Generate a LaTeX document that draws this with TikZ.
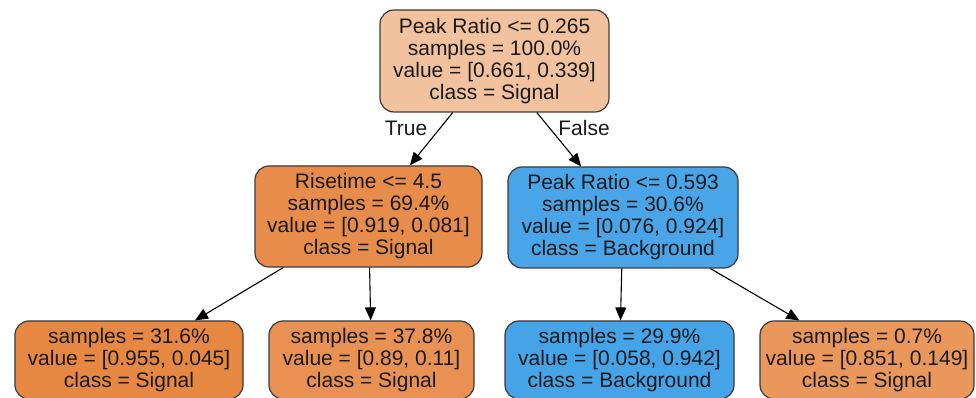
\documentclass[tikz,border=0pt]{standalone}
\usepackage{fontspec}
\setmainfont{Liberation Sans}
\usetikzlibrary{arrows.meta}

% node fills, shaded by class purity
\definecolor{rootfill}{HTML}{F2C29F}
\definecolor{risefill}{HTML}{E78C4A}
\definecolor{peakfill}{HTML}{49A5E7}
\definecolor{leafa}{HTML}{E68742}
\definecolor{leafb}{HTML}{E89152}
\definecolor{leafc}{HTML}{45A3E7}
\definecolor{leafd}{HTML}{EA975C}
\definecolor{bordergray}{HTML}{3A3A3A}
\definecolor{txt}{HTML}{1A1A1A}

\begin{document}
\begin{tikzpicture}[x=1pt,y=1pt,
  treenode/.style={draw=bordergray, line width=1.2pt, rounded corners=14pt,
    align=center, inner sep=0pt, text=txt,
    font=\fontsize{21}{22}\selectfont},
  leafnode/.style={treenode, minimum height=78pt},
  splitnode/.style={treenode, minimum height=101pt},
  link/.style={-{Triangle[length=13pt,width=11pt]}, line width=1.1pt, black},
  edgelabel/.style={text=txt, font=\fontsize{21}{22}\selectfont}]
\useasboundingbox (0,0) rectangle (976,398);
\clip (0,0) rectangle (976,398);

% root split
\node[treenode, fill=rootfill, minimum width=229pt, minimum height=102pt] (root) at (494.5,337)
  {Peak Ratio <= 0.265\\samples = 100.0\%\\value = [0.661, 0.339]\\class = Signal};

% second level
\node[splitnode, fill=risefill, minimum width=227pt] (rise) at (368.5,181.5)
  {Risetime <= 4.5\\samples = 69.4\%\\value = [0.919, 0.081]\\class = Signal};
\node[splitnode, fill=peakfill, minimum width=230pt] (peak) at (623,180.5)
  {Peak Ratio <= 0.593\\samples = 30.6\%\\value = [0.076, 0.924]\\class = Background};

% leaves
\node[leafnode, fill=leafa, minimum width=228pt] (l1) at (129,38)
  {samples = 31.6\%\\value = [0.955, 0.045]\\class = Signal};
\node[leafnode, fill=leafb, minimum width=205pt] (l2) at (371.5,38)
  {samples = 37.8\%\\value = [0.89, 0.11]\\class = Signal};
\node[leafnode, fill=leafc, minimum width=229pt] (l3) at (619.5,38)
  {samples = 29.9\%\\value = [0.058, 0.942]\\class = Background};
\node[leafnode, fill=leafd, minimum width=214pt] (l4) at (867,38)
  {samples = 0.7\%\\value = [0.851, 0.149]\\class = Signal};

% edges
\draw[link] (root) -- (rise);
\draw[link] (root) -- (peak);
\draw[link] (rise) -- (l1);
\draw[link] (rise) -- (l2);
\draw[link] (peak) -- (l3);
\draw[link] (peak) -- (l4);

% branch labels
\node[edgelabel] (truelbl) at (406,270) {True};
\node[edgelabel] (falselbl) at (584,270) {False};
\end{tikzpicture}
\end{document}
